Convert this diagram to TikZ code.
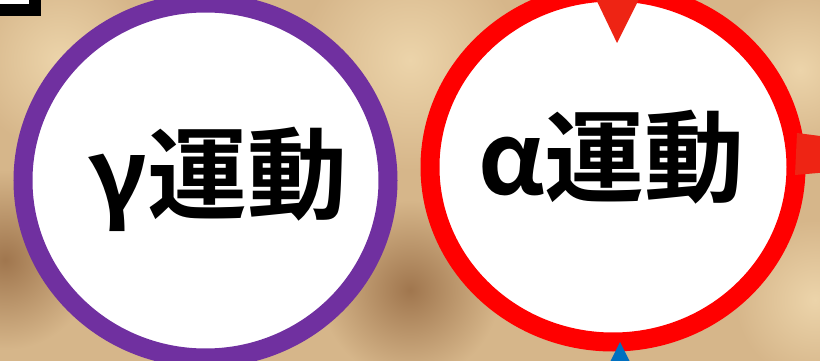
\documentclass[tikz,border=0pt]{standalone}
\usepackage{fontspec}
\newfontfamily\cjk{Noto Sans CJK JP}[BoldFont={Noto Sans CJK JP Bold}]
\definecolor{bgtan}{RGB}{214,182,138}
\definecolor{bglight}{RGB}{236,212,170}
\definecolor{bgdark}{RGB}{160,118,78}
\definecolor{ringpurple}{RGB}{112,48,160}
\definecolor{ringred}{RGB}{255,0,0}
\definecolor{markred}{RGB}{238,36,20}
\definecolor{markblue}{RGB}{0,112,192}
\tikzset{
  ring/.style={draw=#1, line width=19pt, fill=white},
  lbl/.style={font=\cjk\bfseries\fontsize{100pt}{100pt}\selectfont, inner sep=0pt, anchor=base, text=black},
  marker/.style={fill=#1, draw=none}
}
\begin{document}
\begin{tikzpicture}[x=1pt,y=-1pt]
\useasboundingbox (0,0) rectangle (820,361);
\begin{scope}
\clip (0,0) rectangle (820,361);
% blurred photo background
\fill[bgtan] (0,0) rectangle (820,361);
\shade[inner color=bglight, outer color=bgtan] (410,60) circle (110);
\shade[inner color=bglight, outer color=bgtan] (60,60) circle (90);
\shade[inner color=bglight, outer color=bgtan] (800,70) circle (80);
\shade[inner color=bgdark, outer color=bgtan] (5,260) circle (90);
\shade[inner color=bgdark, outer color=bgtan] (410,290) circle (90);
\shade[inner color=bglight, outer color=bgtan] (815,300) circle (80);
% top-left framed box corner
\fill[black] (-5,-5) rectangle (41,16);
\fill[white] (-5,-5) rectangle (29,4);
% circles
\draw[ring=ringpurple] (205.5,180.5) ellipse [x radius=182.5, y radius=177.5];
\draw[ring=ringred] (613,167) ellipse [x radius=183, y radius=175];
% markers on the red circle
\fill[marker=markred] (594,-5) -- (641,-5) -- (617,43) -- cycle;
\fill[marker=markred] (797,133) -- (990,158) -- (795,175) -- cycle;
\fill[marker=markblue] (620,342) -- (642,386) -- (598,386) -- cycle;
\end{scope}
% labels
\node[lbl] (gamma) at (218,211) {γ運動};
\node[lbl] (alpha) at (611.5,194) {α運動};
\end{tikzpicture}
\end{document}
